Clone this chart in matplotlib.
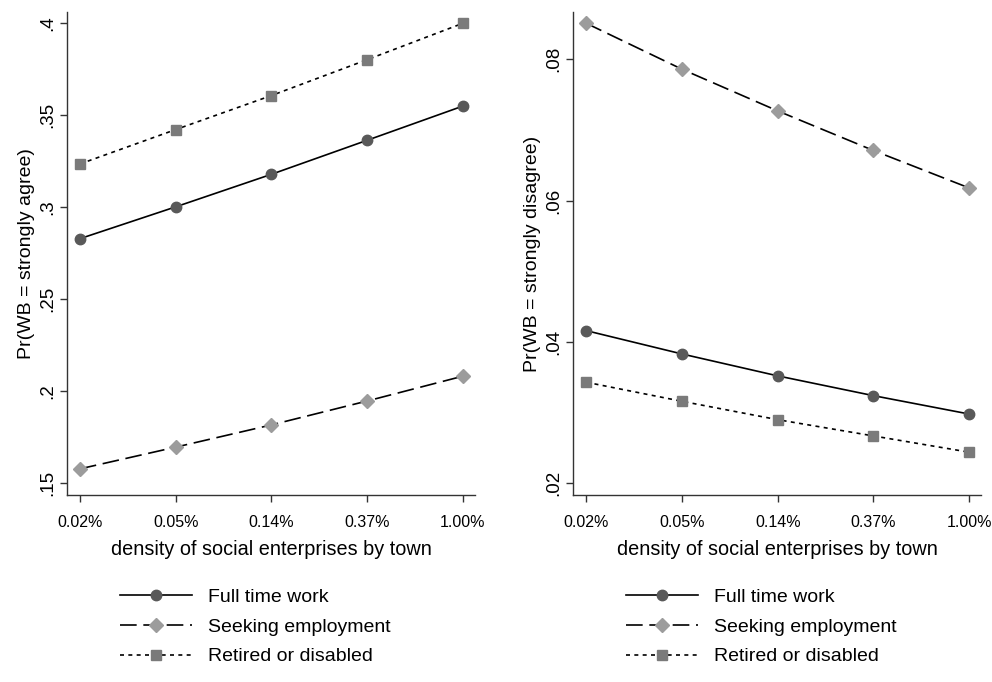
import numpy as np
import matplotlib
matplotlib.use('Agg')
import matplotlib.pyplot as plt

plt.rcParams['font.family'] = ['Liberation Sans', 'DejaVu Sans']

# Predicted probabilities by density of social enterprises
density_labels = ['0.02%', '0.05%', '0.14%', '0.37%', '1.00%']
groups = ['Full time work', 'Seeking employment', 'Retired or disabled']

agree_fulltime = [0.2829, 0.3002, 0.3179, 0.3364, 0.3550]
agree_seeking = [0.1578, 0.1696, 0.1817, 0.1947, 0.2082]
agree_retired = [0.3235, 0.3422, 0.3607, 0.3802, 0.4000]

disagree_fulltime = [0.0416, 0.0383, 0.0352, 0.0324, 0.0298]
disagree_seeking = [0.0851, 0.0786, 0.0727, 0.0671, 0.0618]
disagree_retired = [0.0343, 0.0316, 0.0290, 0.0267, 0.0244]

agree_ticks = [0.15, 0.2, 0.25, 0.3, 0.35, 0.4]
agree_ticklabels = ['.15', '.2', '.25', '.3', '.35', '.4']
disagree_ticks = [0.02, 0.04, 0.06, 0.08]
disagree_ticklabels = ['.02', '.04', '.06', '.08']

styles = [
    dict(color='black', linestyle='-', marker='o', mfc='#595959', mec='#595959', ms=7.5),
    dict(color='black', linestyle=(0, (10, 4)), marker='D', mfc='#9c9c9c', mec='#9c9c9c', ms=7),
    dict(color='black', linestyle=(0, (2.4, 2.6)), marker='s', mfc='#7a7a7a', mec='#7a7a7a', ms=7.5),
]

fig = plt.figure(figsize=(9.92, 6.82), dpi=100)
ax1 = fig.add_axes([0.0675, 0.2742, 0.4113, 0.7082])
ax2 = fig.add_axes([0.578, 0.2742, 0.411, 0.7082])

x = np.arange(len(density_labels))

panels = [
    (ax1, [agree_fulltime, agree_seeking, agree_retired], agree_ticks, agree_ticklabels,
     (0.1436, 0.4061), 'Pr(WB = strongly agree)'),
    (ax2, [disagree_fulltime, disagree_seeking, disagree_retired], disagree_ticks, disagree_ticklabels,
     (0.01834, 0.0867), 'Pr(WB = strongly disagree)'),
]

for ax, series, yt, ytl, ylim, ylabel in panels:
    for vals, name, st in zip(series, groups, styles):
        ax.plot(x, vals, lw=1.2, label=name, **st)
    ax.set_xlim(-0.135, 4.125)
    ax.set_ylim(*ylim)
    ax.set_xticks(x)
    ax.set_xticklabels(density_labels, fontsize=11.5)
    ax.set_yticks(yt)
    ax.set_yticklabels(ytl, fontsize=13.5, rotation=90, va='center')
    ax.set_xlabel('density of social enterprises by town', fontsize=14.3, labelpad=7)
    ax.set_ylabel(ylabel, fontsize=14, labelpad=3)
    for s in ['top', 'right']:
        ax.spines[s].set_visible(False)
    for s in ['left', 'bottom']:
        ax.spines[s].set_color('#333333')
        ax.spines[s].set_linewidth(1.0)
    ax.tick_params(direction='out', length=5, width=1.0, color='#333333')
    ax.tick_params(axis='x', pad=9.5)
    ax.tick_params(axis='y', pad=3)
    leg = ax.legend(loc='center left', bbox_to_anchor=(0.11, -0.273), frameon=False,
                    fontsize=14, handlelength=3.7, handletextpad=0.85,
                    labelspacing=0.62, borderaxespad=0)

fig.savefig('out.png', dpi=100, facecolor='white')
